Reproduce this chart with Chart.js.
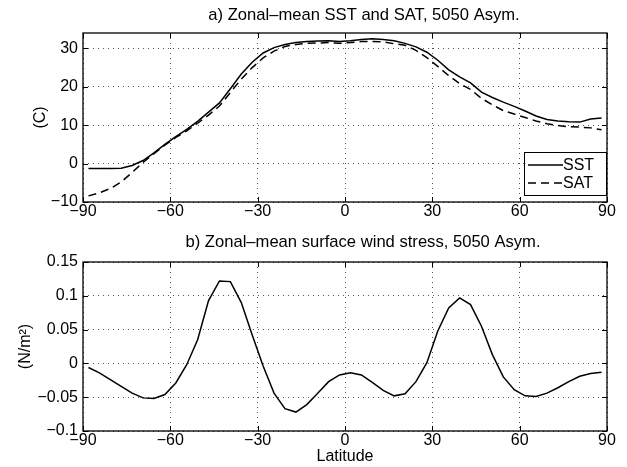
<!DOCTYPE html>
<html>
<head>
<meta charset="utf-8">
<script src="https://cdn.jsdelivr.net/npm/chart.js@4/dist/chart.umd.min.js"></script>
<style>
  body { margin: 0; background: #fff; }
  #wrap { position: relative; width: 627px; height: 467px; }
  canvas { position: absolute; left: 0; }
</style>
</head>
<body>
<div id="wrap">
  <canvas id="chartTop" width="627" height="225" style="top:0"></canvas>
  <canvas id="chartBot" width="627" height="242" style="top:225px"></canvas>
</div>
<script>
// latitude grid of the model (3.75 deg)
var lat = [-88.125, -84.375, -80.625, -76.875, -73.125, -69.375, -65.625, -61.875,
  -58.125, -54.375, -50.625, -46.875, -43.125, -39.375, -35.625, -31.875,
  -28.125, -24.375, -20.625, -16.875, -13.125, -9.375, -5.625, -1.875,
  1.875, 5.625, 9.375, 13.125, 16.875, 20.625, 24.375, 28.125,
  31.875, 35.625, 39.375, 43.125, 46.875, 50.625, 54.375, 58.125,
  61.875, 65.625, 69.375, 73.125, 76.875, 80.625, 84.375, 88.125];

var sst = [-1.3, -1.3, -1.3, -1.2, -0.5, 0.8, 2.8, 5.0,
  7.0, 8.9, 11.0, 13.4, 15.8, 19.5, 23.3, 26.4,
  28.8, 30.2, 31.0, 31.5, 31.8, 31.9, 32.0, 31.8,
  32.0, 32.3, 32.5, 32.3, 32.0, 31.3, 30.4, 29.0,
  26.9, 24.4, 22.6, 21.0, 18.6, 17.2, 16.0, 14.9,
  13.7, 12.4, 11.5, 11.1, 10.9, 10.8, 11.6, 11.9];

var sat = [-8.4, -7.6, -6.5, -4.8, -2.3, 0.3, 2.6, 4.8,
  6.8, 8.5, 10.5, 12.6, 15.0, 18.5, 22.0, 25.0,
  27.5, 29.3, 30.5, 31.0, 31.3, 31.4, 31.5, 31.3,
  31.5, 31.8, 31.8, 31.7, 31.2, 30.8, 29.5, 27.6,
  25.3, 22.9, 20.8, 19.3, 17.0, 15.3, 13.8, 12.9,
  12.0, 11.1, 10.4, 9.9, 9.6, 9.5, 9.3, 8.8];

var tau = [-0.006, -0.014, -0.024, -0.034, -0.044, -0.051, -0.052, -0.046,
  -0.029, -0.002, 0.035, 0.093, 0.122, 0.121, 0.090, 0.042,
  -0.004, -0.044, -0.067, -0.072, -0.061, -0.044, -0.027, -0.017,
  -0.014, -0.017, -0.028, -0.040, -0.048, -0.045, -0.027, 0.001,
  0.048, 0.082, 0.097, 0.087, 0.055, 0.013, -0.020, -0.039,
  -0.048, -0.049, -0.044, -0.036, -0.027, -0.019, -0.015, -0.013];

var latTicks = [-90, -60, -30, 0, 30, 60, 90];
var tempTicks = [-10, 0, 10, 20, 30];
var tauTicks = [-0.1, -0.05, 0, 0.05, 0.1, 0.15];

var FONT = "'Liberation Sans', Arial, Helvetica, sans-serif";
Chart.defaults.font.family = FONT;
Chart.defaults.font.size = 16;
Chart.defaults.color = '#000';

function fmt(v) {
    return (v < 0 ? '\u2212' : '') + Math.abs(v);
}

function pts(ys) {
    return lat.map(function (x, i) { return { x: x, y: ys[i] }; });
}

// axes box + inward ticks like matlab, plus the panel title
var boxPlugin = {
    id: 'boxPlugin',
    afterDraw(chart) {
        const { ctx, chartArea: { top, bottom, left, right } } = chart;
        const xs = chart.scales.x, ys = chart.scales.y;
        ctx.save();
        ctx.strokeStyle = '#000';
        ctx.lineWidth = 1;
        ctx.beginPath();
        xs.ticks.forEach(function (t) {
            const px = Math.round(xs.getPixelForValue(t.value)) + 0.5;
            ctx.moveTo(px, top); ctx.lineTo(px, top + 5);
            ctx.moveTo(px, bottom); ctx.lineTo(px, bottom - 5);
        });
        ys.ticks.forEach(function (t) {
            const py = Math.round(ys.getPixelForValue(t.value)) + 0.5;
            ctx.moveTo(left, py); ctx.lineTo(left + 5, py);
            ctx.moveTo(right, py); ctx.lineTo(right - 5, py);
        });
        ctx.stroke();
        ctx.lineWidth = 1.3;
        ctx.strokeRect(left, top, right - left, bottom - top);

        const p = chart.options.plugins.boxPlugin;
        ctx.font = '16.6px ' + FONT;
        ctx.fillStyle = '#000';
        ctx.textAlign = 'center';
        ctx.textBaseline = 'middle';
        ctx.fillText(p.title, p.titleX, p.titleY);
        ctx.restore();
    }
};

var legendPlugin = {
    id: 'legendPlugin',
    afterDraw(chart) {
        const { ctx } = chart;
        const bx = 524, by = 152, bw = 82, bh = 43;
        ctx.save();
        ctx.fillStyle = '#fff';
        ctx.fillRect(bx, by, bw, bh);
        ctx.strokeStyle = '#000';
        ctx.lineWidth = 1;
        ctx.strokeRect(bx + 0.5, by + 0.5, bw, bh);
        ctx.font = '16px ' + FONT;
        ctx.textAlign = 'left';
        ctx.textBaseline = 'middle';
        chart.data.datasets.forEach(function (ds, i) {
            const y = by + 13 + i * 18;
            ctx.beginPath();
            ctx.setLineDash(ds.borderDash || []);
            ctx.lineWidth = 1.5;
            ctx.moveTo(bx + 4, y);
            ctx.lineTo(bx + 39, y);
            ctx.stroke();
            ctx.setLineDash([]);
            ctx.fillStyle = '#000';
            ctx.fillText(ds.label, bx + 39, y + 1);
        });
        ctx.restore();
    }
};

function scalesFor(yTicks, yMin, yMax, yTitle, yTitlePad, xHeight, xTitle) {
    return {
        x: {
            type: 'linear',
            min: -90,
            max: 90,
            afterBuildTicks: function (s) { s.ticks = latTicks.map(function (v) { return { value: v }; }); },
            afterFit: function (s) { s.height = xHeight; },
            grid: { color: '#555', drawTicks: false },
            border: { display: false, dash: [1, 4] },
            ticks: { padding: 0, maxRotation: 0, callback: fmt, font: { size: 16 } },
            title: { display: !!xTitle, text: xTitle || '', padding: { top: 0, bottom: 1 }, font: { size: 16 } }
        },
        y: {
            min: yMin,
            max: yMax,
            afterBuildTicks: function (s) { s.ticks = yTicks.map(function (v) { return { value: v }; }); },
            afterFit: function (s) { s.width = 83; },
            grid: { color: '#555', drawTicks: false },
            border: { display: false, dash: [1, 4] },
            ticks: { padding: 5, callback: fmt, font: { size: 16 } },
            title: { display: true, text: yTitle, padding: { top: yTitlePad, bottom: 0 }, font: { size: 16 } }
        }
    };
}

window.onload = function () {
    new Chart(document.getElementById('chartTop'), {
        type: 'line',
        data: {
            datasets: [{
                label: 'SST',
                data: pts(sst),
                borderColor: '#000',
                borderWidth: 1.5,
                pointRadius: 0,
                tension: 0
            }, {
                label: 'SAT',
                data: pts(sat),
                borderColor: '#000',
                borderWidth: 1.5,
                borderDash: [8, 5],
                pointRadius: 0,
                tension: 0
            }]
        },
        options: {
            responsive: false,
            animation: false,
            layout: { padding: { top: 33, right: 20, left: 0, bottom: 0 } },
            plugins: {
                legend: { display: false },
                tooltip: { enabled: false },
                boxPlugin: { title: 'a) Zonal\u2013mean SST and SAT, 5050 Asym.', titleX: 364, titleY: 15 }
            },
            scales: scalesFor(tempTicks, -10, 34, '(C)', 31, 23, null)
        },
        plugins: [boxPlugin, legendPlugin]
    });

    new Chart(document.getElementById('chartBot'), {
        type: 'line',
        data: {
            datasets: [{
                label: 'wind stress',
                data: pts(tau),
                borderColor: '#000',
                borderWidth: 1.5,
                pointRadius: 0,
                tension: 0
            }]
        },
        options: {
            responsive: false,
            animation: false,
            layout: { padding: { top: 37, right: 20, left: 0, bottom: 0 } },
            plugins: {
                legend: { display: false },
                tooltip: { enabled: false },
                boxPlugin: { title: 'b) Zonal\u2013mean surface wind stress, 5050 Asym.', titleX: 363, titleY: 17 }
            },
            scales: scalesFor(tauTicks, -0.1, 0.15, '(N/m\u00b2)', 16, 36, 'Latitude')
        },
        plugins: [boxPlugin]
    });
};
</script>
</body>
</html>
